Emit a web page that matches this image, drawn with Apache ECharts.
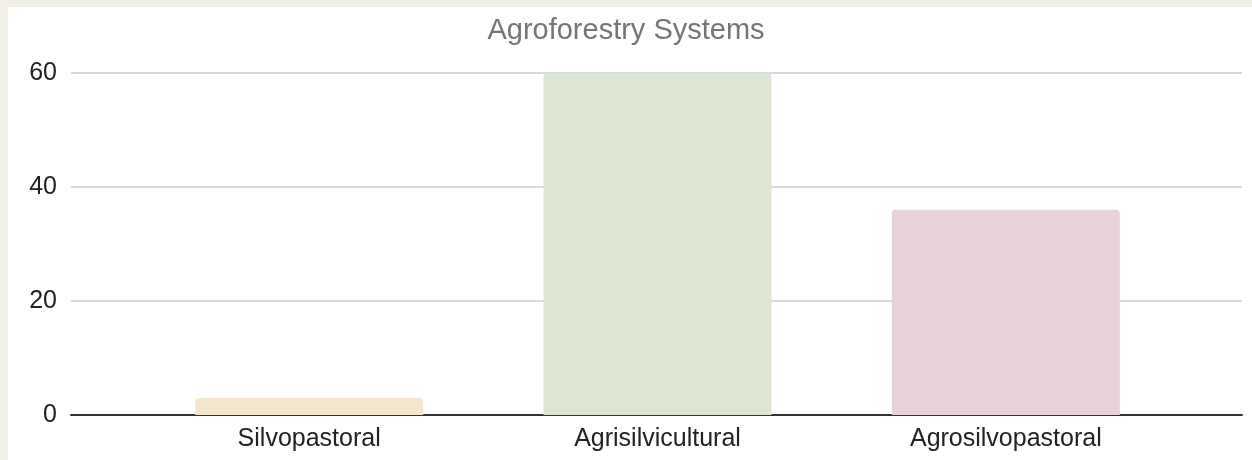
<!DOCTYPE html>
<html>
<head>
<meta charset="utf-8">
<style>
  html, body { margin: 0; padding: 0; }
  #container { width: 1252px; height: 460px; }
</style>
<script src="https://cdn.jsdelivr.net/npm/echarts@6/dist/echarts.min.js"></script>
</head>
<body>
<div id="container"></div>
<script>
var categories = ['Silvopastoral', 'Agrisilvicultural', 'Agrosilvopastoral'];
var values = [3, 60, 36];
var barColors = ['#f6e6cd', '#dde6d3', '#e8d2d7'];
var yTicks = [0, 20, 40, 60];

var dom = document.getElementById('container');
var myChart = echarts.init(dom, null, { renderer: 'canvas' });
var font = '"Liberation Sans", Arial, sans-serif';

var option = {
  backgroundColor: '#f2efe7',
  animation: false,
  graphic: [
    {
      type: 'rect',
      z: -10,
      shape: { x: 8, y: 7, width: 1244, height: 453 },
      style: { fill: '#ffffff' }
    }
  ],
  title: {
    text: 'Agroforestry Systems',
    left: 'center',
    top: 11,
    textStyle: { fontFamily: font, fontSize: 29, fontWeight: 'normal', color: '#757575' }
  },
  grid: [
    { left: 71, right: 10, top: 73, bottom: 45 },
    { left: 135, right: 72, top: 73, bottom: 45 }
  ],
  xAxis: [
    {
      gridIndex: 0, type: 'value', min: 0, max: 1,
      axisLine: { show: true, lineStyle: { color: '#333', width: 2 } },
      axisTick: { show: false }, axisLabel: { show: false }, splitLine: { show: false }
    },
    {
      gridIndex: 1, type: 'category', data: categories,
      axisLine: { show: false }, axisTick: { show: false },
      axisLabel: { margin: 12, fontFamily: font, fontSize: 25, color: '#222' }
    }
  ],
  yAxis: [
    {
      gridIndex: 0, type: 'value', min: 0, max: yTicks[yTicks.length - 1], interval: 20,
      axisLine: { show: false }, axisTick: { show: false },
      axisLabel: { margin: 14, fontFamily: font, fontSize: 25, color: '#222' },
      splitLine: { lineStyle: { color: '#cccccc', width: 1.5 } }
    },
    {
      gridIndex: 1, type: 'value', min: 0, max: yTicks[yTicks.length - 1],
      show: false, splitLine: { show: false }
    }
  ],
  series: [
    {
      type: 'bar',
      xAxisIndex: 1,
      yAxisIndex: 1,
      barWidth: 228,
      z: 1,
      data: values.map(function (v, i) {
        return { value: v, itemStyle: { color: barColors[i], borderRadius: [4, 4, 0, 0] } };
      })
    }
  ]
};

myChart.setOption(option);
window.addEventListener('resize', myChart.resize);
</script>
</body>
</html>
